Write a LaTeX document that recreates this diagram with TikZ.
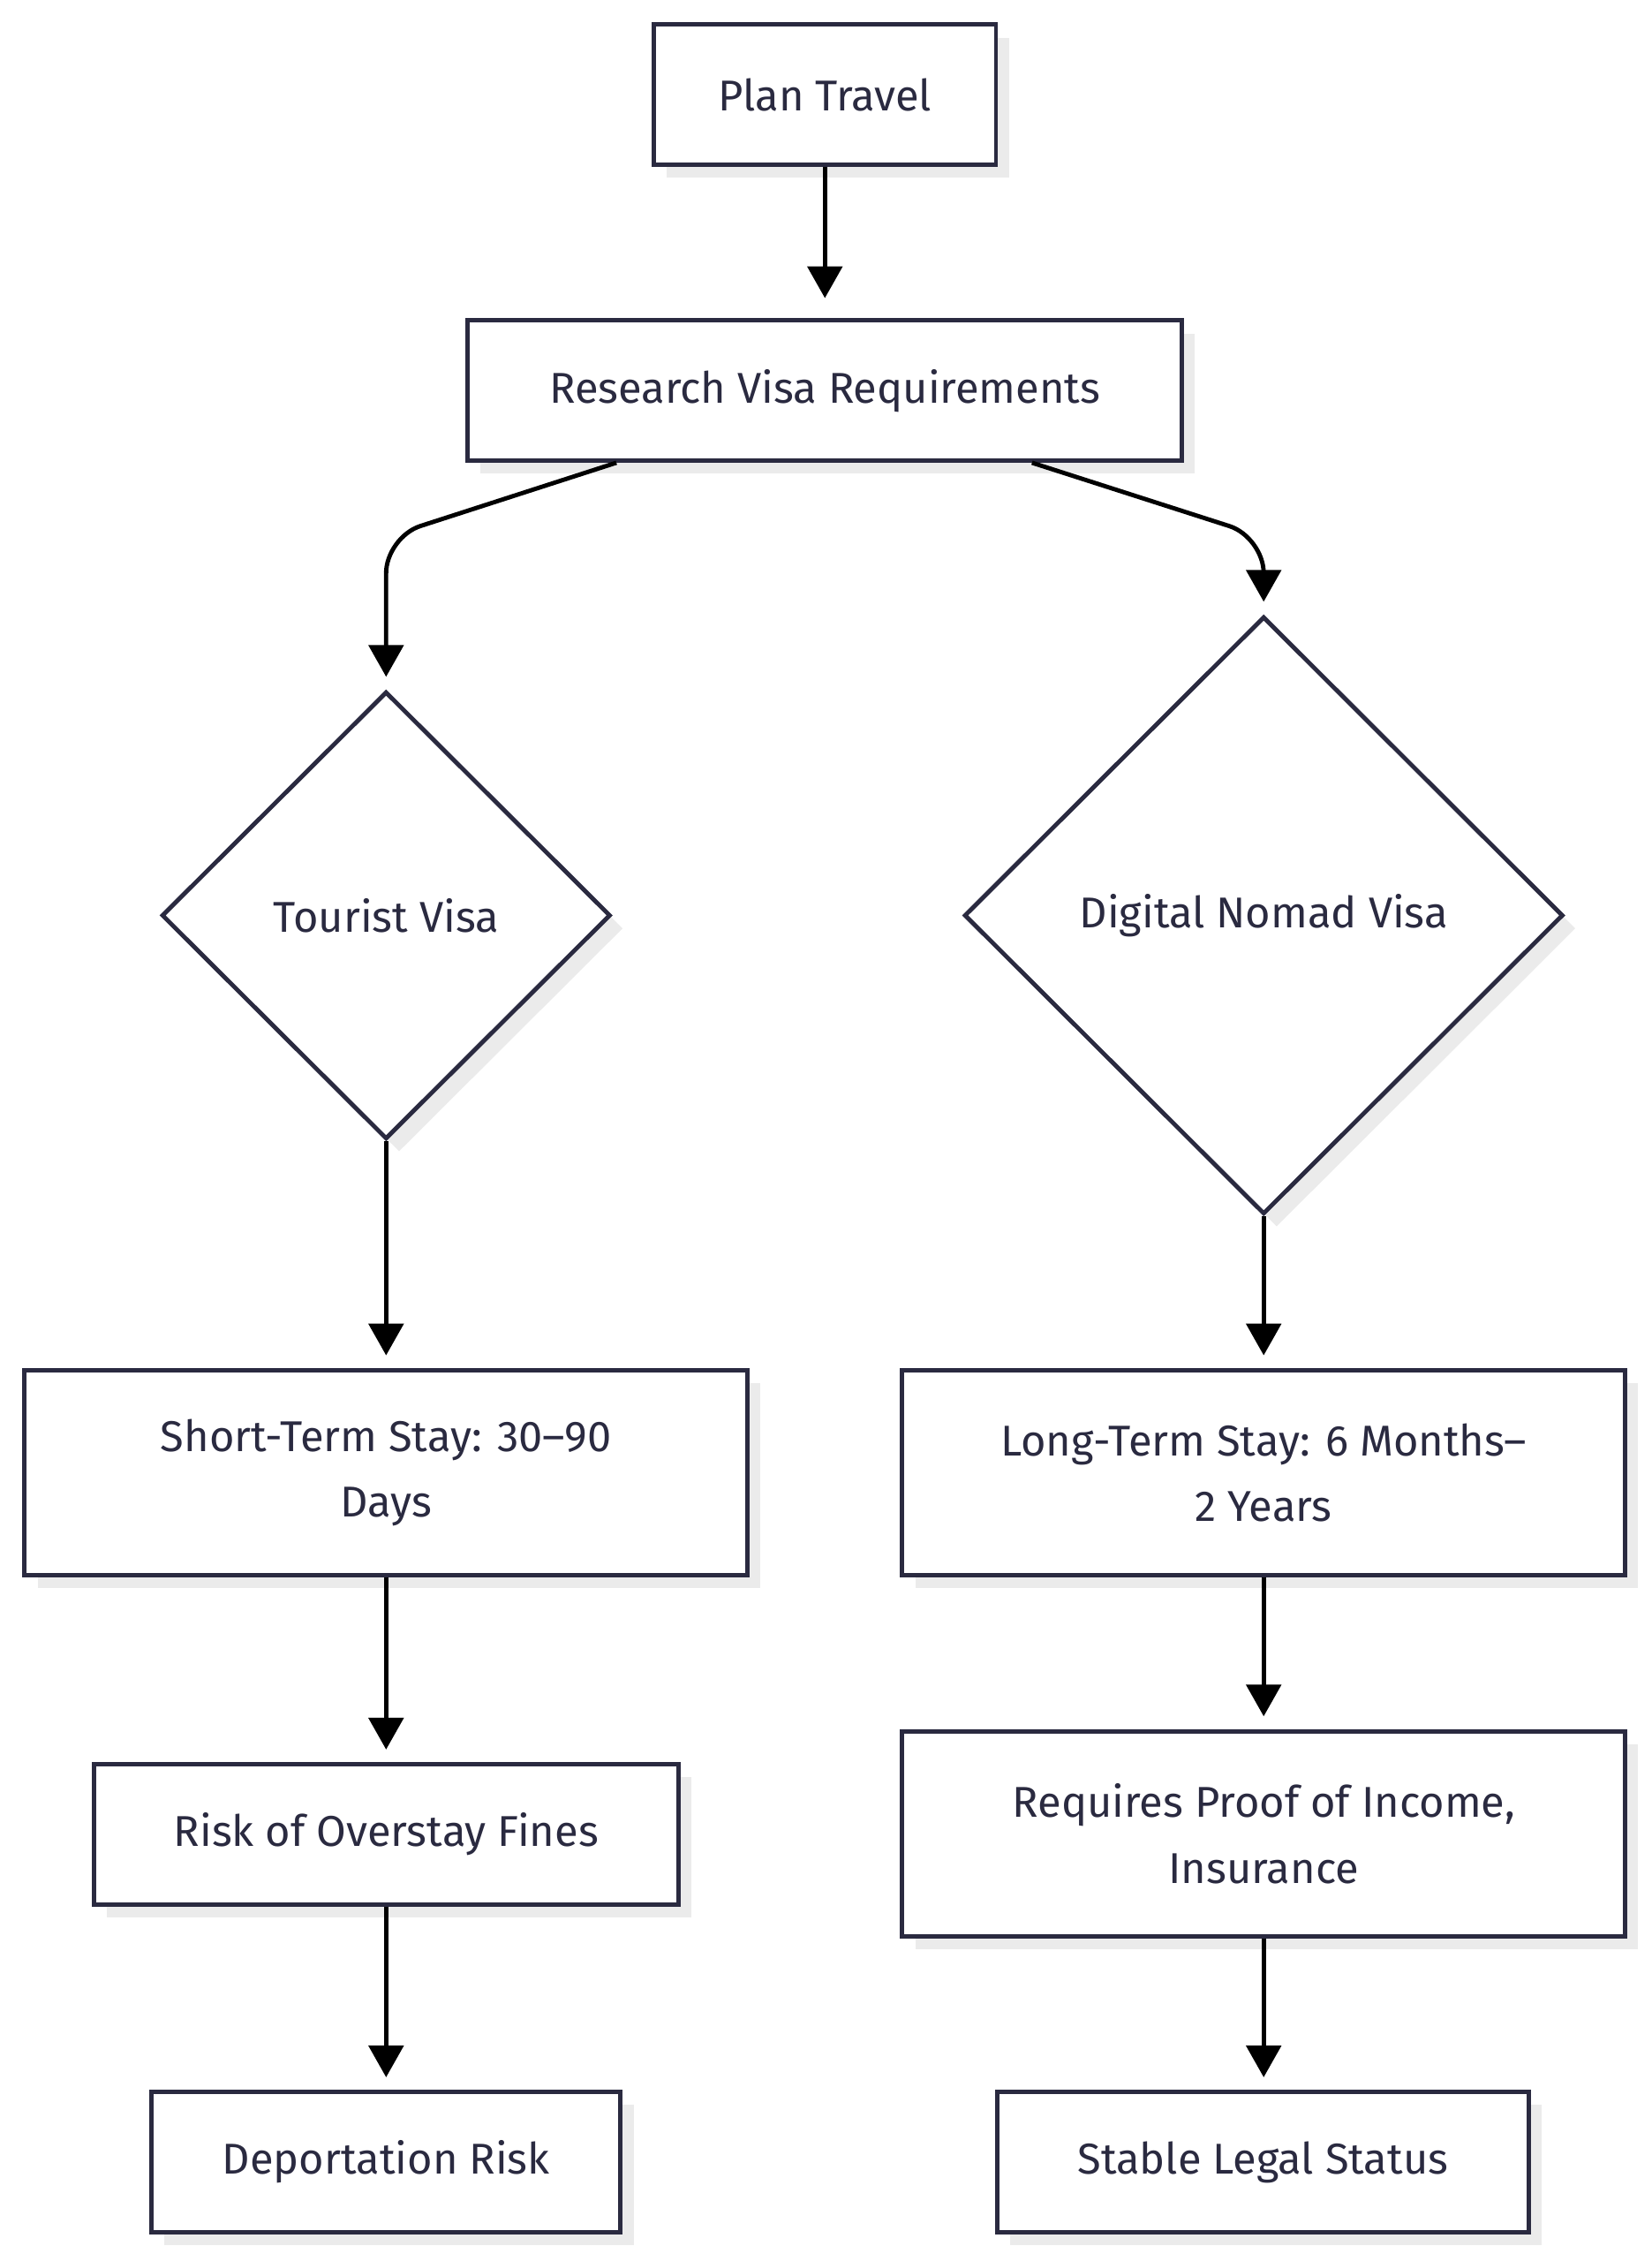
\documentclass[tikz,border=0pt]{standalone}
\usepackage{fontspec}
\setmainfont{Fira Sans}
\usetikzlibrary{shapes.geometric,shadows,arrows.meta}
\definecolor{ink}{HTML}{2A2A40}
\begin{document}
\begin{tikzpicture}[x=0.02cm,y=-0.02cm,
 base/.style={draw=ink,line width=1.7pt,fill=white,text=ink,align=center,inner sep=0pt,
   font=\fontsize{17}{26}\selectfont,
   drop shadow={shadow xshift=0.18cm,shadow yshift=-0.18cm,fill=black!8,opacity=1}},
 box/.style={base,rectangle},
 dia/.style={base,diamond,aspect=1},
 arr/.style={line width=1.7pt,-{Triangle[width=0.48cm,length=0.44cm]}}]
\useasboundingbox (0,0) rectangle (1144,1566);
\node[box,minimum width=4.74cm,minimum height=1.94cm] (plan) at (571.5,65.5) {Plan Travel};
\node[box,minimum width=9.9cm,minimum height=1.94cm] (res) at (571.5,270.5) {Research Visa Requirements};
\node[dia,minimum width=6.22cm,minimum height=6.2cm] (tour) at (267.5,634) {Tourist Visa};
\node[dia,minimum width=8.3cm,minimum height=8.28cm] (dig) at (875.5,634) {Digital Nomad Visa};
\node[box,minimum width=10.02cm,minimum height=2.84cm] (short) at (267.5,1020) {Short-Term Stay: 30–90\\Days};
\node[box,minimum width=10.02cm,minimum height=2.84cm] (long) at (875.5,1020) {Long-Term Stay: 6 Months–\\2 Years};
\node[box,minimum width=8.1cm,minimum height=1.94cm] (risk) at (267.5,1270.5) {Risk of Overstay Fines};
\node[box,minimum width=10.02cm,minimum height=2.84cm] (proof) at (875.5,1270) {Requires Proof of Income,\\Insurance};
\node[box,minimum width=6.5cm,minimum height=1.94cm] (dep) at (267.5,1497.5) {Deportation Risk};
\node[box,minimum width=7.36cm,minimum height=1.94cm] (stab) at (875,1497.5) {Stable Legal Status};
\draw[arr,shorten >=8pt] (plan) -- (res);
\draw[arr,rounded corners=0.5cm,shorten >=5pt] ([xshift=-2.89cm]res.south) -- (267.5,372) -- (tour.north);
\draw[arr,rounded corners=0.5cm,shorten >=5pt] ([xshift=2.87cm]res.south) -- (875.5,372) -- (dig.north);
\draw[arr,shorten >=5pt] (tour.south) -- (short.north);
\draw[arr,shorten >=5pt] (dig.south) -- (long.north);
\draw[arr,shorten >=5pt] (short) -- (risk);
\draw[arr,shorten >=5pt] (long) -- (proof);
\draw[arr,shorten >=5pt] (risk) -- (dep);
\draw[arr,shorten >=5pt] (proof.south) -- (proof.south |- stab.north);
\end{tikzpicture}
\end{document}
